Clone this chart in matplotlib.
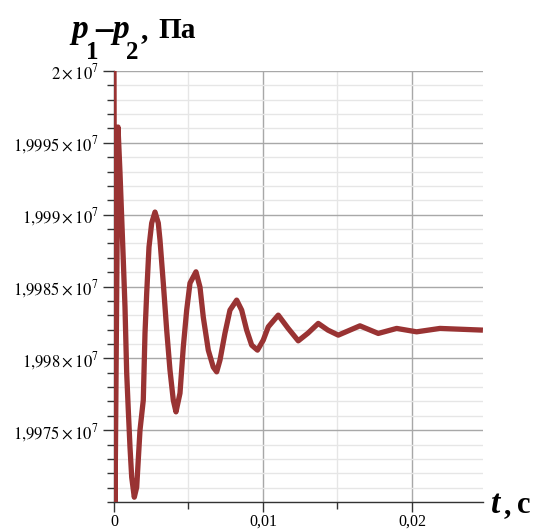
import numpy as np
import matplotlib
matplotlib.use('Agg')
import matplotlib.pyplot as plt
from matplotlib.ticker import MultipleLocator

plt.rcParams['mathtext.fontset'] = 'stix'
plt.rcParams['font.family'] = ['Liberation Serif', 'DejaVu Serif']

################################################################################
# Data (time in s, pressure difference in Pa)

tList = [0.0, 0.000067, 0.000268, 0.000403, 0.000624, 0.000738, 0.000852,
	0.00096, 0.001074, 0.001188, 0.001362, 0.001523, 0.001745, 0.001966,
	0.002081, 0.002195, 0.002349, 0.00253, 0.002752, 0.002973, 0.003087,
	0.003309, 0.003537, 0.003758, 0.00398, 0.004161, 0.00443, 0.004651,
	0.004879, 0.005101, 0.005503, 0.005772, 0.005993, 0.006329, 0.006664,
	0.006893, 0.007114, 0.00745, 0.007785, 0.008235, 0.00857, 0.008906,
	0.009242, 0.009631, 0.01002, 0.010356, 0.011027, 0.011678, 0.012369,
	0.01302, 0.013711, 0.014362, 0.015054, 0.01651, 0.017738, 0.018973,
	0.020315, 0.021879, 0.024765]
pList = [20000000, 19969500, 19996100, 19992897, 19986838, 19983565, 19978969,
	19976392, 19973815, 19971726, 19970333, 19971030, 19974999, 19977088,
	19981754, 19984540, 19987743, 19989415, 19990181, 19989415, 19988231,
	19985236, 19981963, 19979178, 19977088, 19976274, 19977576, 19980779,
	19983356, 19985236, 19986023, 19984958, 19982869, 19980570, 19979387,
	19979059, 19979874, 19981754, 19983356, 19984052, 19983356, 19981963,
	19980919, 19980570, 19981267, 19982193, 19983008, 19982103, 19981218,
	19981754, 19982430, 19981963, 19981615, 19982263, 19981733, 19982082,
	19981845, 19982082, 19981963]

xTicks = [0.0, 0.01, 0.02]
xTickLabels = ['0', '0,01', '0,02']
yTicks = [19975000, 19980000, 19985000, 19990000, 19995000, 20000000]
yTickLabels = [r'$1{,}9975\times10^{7}$', r'$1{,}998\times10^{7}$',
	r'$1{,}9985\times10^{7}$', r'$1{,}999\times10^{7}$',
	r'$1{,}9995\times10^{7}$', r'$2\times10^{7}$']

################################################################################
# Plot

W, H = 542, 532
fig = plt.figure(figsize=(W/100, H/100), dpi=100)
ax = fig.add_axes([114/W, 30/H, 369/W, 431/H])

ax.plot(tList, pList, color='#993333', lw=3.8, solid_joinstyle='round',
	solid_capstyle='butt', zorder=3)

ax.set_xlim(0, 0.02477)
ax.set_ylim(19970000, 20000000)

ax.set_xticks(xTicks)
ax.set_xticklabels(xTickLabels, fontsize=11.5)
ax.set_yticks(yTicks)
ax.set_yticklabels(yTickLabels, fontsize=12)
ax.xaxis.set_minor_locator(MultipleLocator(0.005))
ax.yaxis.set_minor_locator(MultipleLocator(1000))

ax.grid(which='major', color='#a8a8a8', lw=1.0)
ax.grid(which='minor', color='#e6e6e6', lw=1.0)
ax.set_axisbelow(True)

ax.tick_params(which='major', length=8, width=1, color='#333333', pad=3)
ax.tick_params(which='minor', length=5, width=1, color='#333333')
ax.tick_params(axis='x', which='major', length=7, pad=1.5)

for side in ['top', 'right']:
	ax.spines[side].set_visible(False)
for side in ['left', 'bottom']:
	ax.spines[side].set_color('#333333')
	ax.spines[side].set_linewidth(1.0)

# Axis titles, built piece by piece (subscripts sit low in the original)
def figText(x, y, s, **kw):
	fig.text(x/W, 1 - y/H, s, ha='left', va='baseline', **kw)

figText(71, 38, 'p', fontsize=24, fontweight='bold', fontstyle='italic')
figText(86, 59, '1', fontsize=18, fontweight='bold')
figText(95, 39, '\u2013', fontsize=25, fontweight='bold')
figText(112, 38, 'p', fontsize=24, fontweight='bold', fontstyle='italic')
figText(126, 59, '2', fontsize=18, fontweight='bold')
figText(141, 38, ',', fontsize=21, fontweight='bold')
figText(158, 38, 'Па', fontsize=21, fontweight='bold')

figText(491, 513, 't', fontsize=24, fontweight='bold', fontstyle='italic')
figText(504, 513, ',', fontsize=21, fontweight='bold')
figText(517, 513, 'с', fontsize=22, fontweight='bold')

plt.savefig('out.png', dpi=100)
